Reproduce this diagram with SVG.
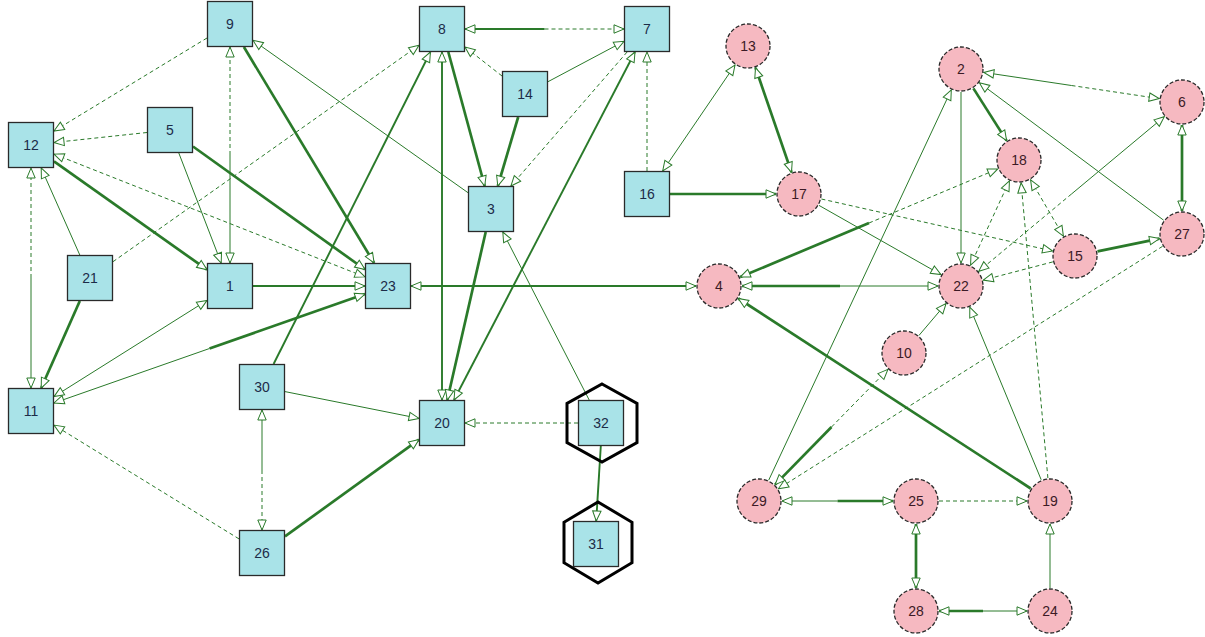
<svg xmlns="http://www.w3.org/2000/svg" width="1205" height="637" viewBox="0 0 1205 637">
<defs>
<marker id="ar" viewBox="0 0 11 10" refX="10.5" refY="5" markerWidth="11" markerHeight="10" markerUnits="userSpaceOnUse" orient="auto-start-reverse" overflow="visible">
<path d="M0.5,0.8 L10.5,5 L0.5,9.2 Z" fill="#ffffff" stroke="#2a7a2a" stroke-width="1"/>
</marker>
</defs>
<style>
.e{fill:none;stroke:#2a7a2a;stroke-width:1}
.m{stroke-width:1.9}
.k{stroke-width:2.7}
.d{stroke-dasharray:4 3}
.a{marker-end:url(#ar)}
.b{marker-start:url(#ar)}
.sq rect{fill:#a9e3e8;stroke:#2a2a2a;stroke-width:1.3}
.ci circle{fill:#f6b9c1;stroke:#2a2a2a;stroke-width:1.3;stroke-dasharray:4 2}
text{font-family:"Liberation Sans",Arial,sans-serif;font-size:14px;text-anchor:middle;dominant-baseline:central}
.sq text{fill:#1c2c48}
.ci text{fill:#3c1a26}
.hex{fill:none;stroke:#000;stroke-width:3}
</style>
<rect width="1205" height="637" fill="#ffffff"/>
<g id="edges">
<line class="e d a" x1="207" y1="38" x2="54" y2="131"/>
<line class="e d a" x1="147" y1="132.5" x2="54" y2="142.5"/>
<line class="e k a" x1="54" y1="161.3" x2="207" y2="269.7"/>
<line class="e d a b" x1="54" y1="154.1" x2="365" y2="276.9"/>
<line class="e d a" x1="230" y1="155" x2="230" y2="47"/>
<line class="e a" x1="230" y1="155" x2="230" y2="263"/>
<line class="e k a" x1="243.9" y1="47" x2="374.1" y2="263"/>
<line class="e a" x1="468" y1="192.7" x2="253" y2="40.3"/>
<line class="e a" x1="178.8" y1="153" x2="221.2" y2="263"/>
<line class="e k a" x1="193" y1="146.5" x2="365" y2="269.5"/>
<line class="e d a" x1="31" y1="278" x2="31" y2="168"/>
<line class="e a" x1="31" y1="278" x2="31" y2="388"/>
<line class="e a" x1="79.8" y1="255" x2="41.2" y2="168"/>
<line class="e k a" x1="79.8" y1="301" x2="41.2" y2="388"/>
<line class="e d a" x1="113" y1="261.7" x2="419" y2="45.3"/>
<line class="e a b" x1="207" y1="300.4" x2="54" y2="396.6"/>
<line class="e k a" x1="209.5" y1="348.5" x2="365" y2="294"/>
<line class="e a" x1="209.5" y1="348.5" x2="54" y2="403"/>
<line class="e m a" x1="253" y1="286" x2="365" y2="286"/>
<line class="e m a" x1="273.6" y1="364" x2="430.4" y2="52"/>
<line class="e m a b" x1="442" y1="52" x2="442" y2="400"/>
<line class="e k a" x1="448.3" y1="52" x2="484.7" y2="186"/>
<line class="e d a" x1="502" y1="76" x2="465" y2="47"/>
<line class="e m a" x1="544.5" y1="29" x2="465" y2="29"/>
<line class="e d a" x1="544.5" y1="29" x2="624" y2="29"/>
<line class="e a" x1="548" y1="81.7" x2="624" y2="41.3"/>
<line class="e k a" x1="518.2" y1="117" x2="497.8" y2="186"/>
<line class="e d a" x1="627.1" y1="52" x2="510.9" y2="186"/>
<line class="e m a b" x1="454" y1="400" x2="635" y2="52"/>
<line class="e d a" x1="647" y1="171" x2="647" y2="52"/>
<line class="e k a" x1="485.7" y1="232" x2="447.3" y2="400"/>
<line class="e a" x1="589.2" y1="400" x2="502.8" y2="232"/>
<line class="e a" x1="285" y1="391.6" x2="419" y2="418.4"/>
<line class="e k a" x1="285" y1="536.4" x2="419" y2="439.6"/>
<line class="e a" x1="262" y1="470" x2="262" y2="410"/>
<line class="e d a" x1="262" y1="470" x2="262" y2="530"/>
<line class="e d a" x1="239" y1="538.9" x2="54" y2="425.1"/>
<line class="e d a" x1="578" y1="423" x2="465" y2="423"/>
<line class="e m a" x1="600.8" y1="446" x2="596.2" y2="521"/>
<line class="e m a b" x1="411" y1="286" x2="696" y2="286"/>
<line class="e k a" x1="840" y1="286" x2="742" y2="286"/>
<line class="e a" x1="840" y1="286" x2="938" y2="286"/>
<line class="e k a" x1="869" y1="223" x2="740.2" y2="277.1"/>
<line class="e d a" x1="869" y1="223" x2="997.8" y2="168.9"/>
<line class="e k a" x1="1030.7" y1="488.5" x2="738.3" y2="298.5"/>
<line class="e k a" x1="670" y1="194" x2="776" y2="194"/>
<line class="e a b" x1="735" y1="65" x2="662.7" y2="171"/>
<line class="e k a b" x1="755.5" y1="67.75" x2="791.5" y2="172.25"/>
<line class="e a" x1="819" y1="205.4" x2="941" y2="274.6"/>
<line class="e d a" x1="821.4" y1="199" x2="1052.6" y2="251"/>
<line class="e a" x1="961" y1="92" x2="961" y2="263"/>
<line class="e k a" x1="973.4" y1="88.4" x2="1006.6" y2="140.6"/>
<line class="e a" x1="1071.5" y1="85.5" x2="983.8" y2="72.4"/>
<line class="e d a" x1="1071.5" y1="85.5" x2="1159.2" y2="98.6"/>
<line class="e a" x1="1163.6" y1="220.2" x2="979.4" y2="82.8"/>
<line class="e a" x1="768.7" y1="480.2" x2="951.3" y2="89.8"/>
<line class="e k a b" x1="1182" y1="125" x2="1182" y2="211"/>
<line class="e d a" x1="1071.5" y1="194" x2="978.7" y2="271.3"/>
<line class="e a" x1="1071.5" y1="194" x2="1164.3" y2="116.7"/>
<line class="e d a b" x1="1009.4" y1="180.9" x2="970.6" y2="265.1"/>
<line class="e d a b" x1="1030.6" y1="179.9" x2="1063.4" y2="236.1"/>
<line class="e d a" x1="1047.9" y1="478.1" x2="1021.1" y2="182.9"/>
<line class="e d a" x1="1052.8" y1="261.9" x2="983.2" y2="280.1"/>
<line class="e k a" x1="1097.5" y1="251.4" x2="1159.5" y2="238.6"/>
<line class="e d a" x1="1162.6" y1="246.3" x2="778.4" y2="488.7"/>
<line class="e a" x1="918.9" y1="335.5" x2="946.1" y2="303.5"/>
<line class="e d a" x1="831.5" y1="427" x2="887.9" y2="369.4"/>
<line class="e k a" x1="831.5" y1="427" x2="775.1" y2="484.6"/>
<line class="e a" x1="1041.2" y1="479.75" x2="969.8" y2="307.25"/>
<line class="e a" x1="837.5" y1="501" x2="782" y2="501"/>
<line class="e k a" x1="837.5" y1="501" x2="893" y2="501"/>
<line class="e d a" x1="939" y1="501" x2="1027" y2="501"/>
<line class="e k a b" x1="916" y1="524" x2="916" y2="588"/>
<line class="e k a" x1="983" y1="611" x2="939" y2="611"/>
<line class="e a" x1="983" y1="611" x2="1027" y2="611"/>
<line class="e a" x1="1050" y1="588" x2="1050" y2="524"/>
</g>
<g id="n9" class="sq"><rect x="207.5" y="1.5" width="45" height="45"/><text x="230" y="24">9</text></g>
<g id="n12" class="sq"><rect x="8.5" y="122.5" width="45" height="45"/><text x="31" y="145">12</text></g>
<g id="n5" class="sq"><rect x="147.5" y="107.5" width="45" height="45"/><text x="170" y="130">5</text></g>
<g id="n21" class="sq"><rect x="67.5" y="255.5" width="45" height="45"/><text x="90" y="278">21</text></g>
<g id="n1" class="sq"><rect x="207.5" y="263.5" width="45" height="45"/><text x="230" y="286">1</text></g>
<g id="n11" class="sq"><rect x="8.5" y="388.5" width="45" height="45"/><text x="31" y="411">11</text></g>
<g id="n30" class="sq"><rect x="239.5" y="364.5" width="45" height="45"/><text x="262" y="387">30</text></g>
<g id="n8" class="sq"><rect x="419.5" y="6.5" width="45" height="45"/><text x="442" y="29">8</text></g>
<g id="n7" class="sq"><rect x="624.5" y="6.5" width="45" height="45"/><text x="647" y="29">7</text></g>
<g id="n14" class="sq"><rect x="502.5" y="71.5" width="45" height="45"/><text x="525" y="94">14</text></g>
<g id="n3" class="sq"><rect x="468.5" y="186.5" width="45" height="45"/><text x="491" y="209">3</text></g>
<g id="n16" class="sq"><rect x="624.5" y="171.5" width="45" height="45"/><text x="647" y="194">16</text></g>
<g id="n23" class="sq"><rect x="365.5" y="263.5" width="45" height="45"/><text x="388" y="286">23</text></g>
<g id="n20" class="sq"><rect x="419.5" y="400.5" width="45" height="45"/><text x="442" y="423">20</text></g>
<g id="n26" class="sq"><rect x="239.5" y="530.5" width="45" height="45"/><text x="262" y="553">26</text></g>
<g id="n32" class="sq"><polygon class="hex" points="602,384 637,403.5 637,442.5 602,462 567,442.5 567,403.5"/><rect x="578.5" y="400.5" width="45" height="45"/><text x="601" y="423">32</text></g>
<g id="n31" class="sq"><polygon class="hex" points="598,502 632,522.25 632,562.75 598,583 564,562.75 564,522.25"/><rect x="573.5" y="521.5" width="45" height="45"/><text x="596" y="544">31</text></g>
<g id="n13" class="ci"><circle cx="748" cy="46" r="22"/><text x="748" y="46">13</text></g>
<g id="n17" class="ci"><circle cx="799" cy="194" r="22"/><text x="799" y="194">17</text></g>
<g id="n4" class="ci"><circle cx="719" cy="286" r="22"/><text x="719" y="286">4</text></g>
<g id="n2" class="ci"><circle cx="961" cy="69" r="22"/><text x="961" y="69">2</text></g>
<g id="n6" class="ci"><circle cx="1182" cy="102" r="22"/><text x="1182" y="102">6</text></g>
<g id="n18" class="ci"><circle cx="1019" cy="160" r="22"/><text x="1019" y="160">18</text></g>
<g id="n27" class="ci"><circle cx="1182" cy="234" r="22"/><text x="1182" y="234">27</text></g>
<g id="n15" class="ci"><circle cx="1075" cy="256" r="22"/><text x="1075" y="256">15</text></g>
<g id="n22" class="ci"><circle cx="961" cy="286" r="22"/><text x="961" y="286">22</text></g>
<g id="n10" class="ci"><circle cx="904" cy="353" r="22"/><text x="904" y="353">10</text></g>
<g id="n29" class="ci"><circle cx="759" cy="501" r="22"/><text x="759" y="501">29</text></g>
<g id="n25" class="ci"><circle cx="916" cy="501" r="22"/><text x="916" y="501">25</text></g>
<g id="n19" class="ci"><circle cx="1050" cy="501" r="22"/><text x="1050" y="501">19</text></g>
<g id="n28" class="ci"><circle cx="916" cy="611" r="22"/><text x="916" y="611">28</text></g>
<g id="n24" class="ci"><circle cx="1050" cy="611" r="22"/><text x="1050" y="611">24</text></g>
</svg>
